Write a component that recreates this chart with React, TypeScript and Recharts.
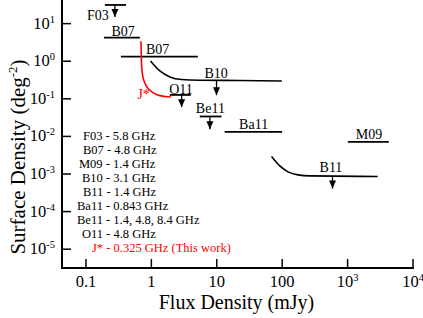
import React from 'react';
import { ComposedChart, Line, XAxis, YAxis, ReferenceDot, Label } from 'recharts';

// ── Axes ──────────────────────────────────────────────────────────────────────

const X_DOMAIN = [0.043, 10000];
const Y_DOMAIN = [3.16e-6, 40];

const X_TICKS = [0.1, 1, 10, 100, 1000, 10000];
const X_TICK_BASE = ['0.1', '1', '10', '100', '10', '10'];
const X_TICK_EXP = ['', '', '', '', '3', '4'];

const Y_TICKS = [1e-5, 1e-4, 1e-3, 1e-2, 1e-1, 1, 10];
const Y_TICK_EXP = ['-5', '-4', '-3', '-2', '-1', '0', '1'];

// ── Upper limits (horizontal bars) ───────────────────────────────────────────

const F03 = [{ x: 0.195, y: 31.4 }, { x: 0.41, y: 31.4 }];
const B07_A = [{ x: 0.188, y: 4.27 }, { x: 0.667, y: 4.27 }];
const B07_B = [{ x: 0.342, y: 1.33 }, { x: 5.13, y: 1.33 }];
const O11 = [{ x: 1.91, y: 0.127 }, { x: 4.0, y: 0.127 }];
const BE11 = [{ x: 5.5, y: 0.0339 }, { x: 11.8, y: 0.0339 }];
const BA11 = [{ x: 13.2, y: 0.0132 }, { x: 100, y: 0.0132 }];
const M09 = [{ x: 1010, y: 0.00714 }, { x: 4270, y: 0.00714 }];

// ── Curves ────────────────────────────────────────────────────────────────────

const J_STAR = [
  { x: 0.692, y: 3.4 }, { x: 0.705, y: 1.0 }, { x: 0.73, y: 0.45 },
  { x: 0.796, y: 0.26 }, { x: 0.95, y: 0.169 }, { x: 1.22, y: 0.128 },
  { x: 1.61, y: 0.115 }, { x: 1.99, y: 0.112 },
];
const B10 = [
  { x: 0.97, y: 1.02 }, { x: 1.35, y: 0.552 }, { x: 1.92, y: 0.382 },
  { x: 2.9, y: 0.326 }, { x: 5.5, y: 0.312 }, { x: 22.5, y: 0.307 },
  { x: 98.8, y: 0.299 },
];
const B11 = [
  { x: 68.7, y: 0.00292 }, { x: 92, y: 0.00164 }, { x: 123, y: 0.00114 },
  { x: 175, y: 0.000946 }, { x: 264, y: 0.000891 }, { x: 2890, y: 0.000859 },
];

// ── Downward arrows (x, from, to) ─────────────────────────────────────────────

const ARROW_X = [0.277, 2.9, 9.9, 7.85, 588];
const ARROW_FROM = [31.4, 0.127, 0.3, 0.0339, 0.00086];
const ARROW_TO = [15, 0.06, 0.125, 0.0155, 0.00041];

// ── Survey tags ───────────────────────────────────────────────────────────────

const TAG_TEXT = ['F03', 'B07', 'B07', 'J*', 'O11', 'B10', 'Be11', 'Ba11', 'M09', 'B11'];
const TAG_X = [0.152, 0.371, 1.25, 0.762, 2.83, 9.76, 7.98, 36.6, 2122, 557];
const TAG_Y = [12.3, 4.71, 1.53, 0.0977, 0.137, 0.368, 0.0432, 0.0155, 0.00879, 0.0011];

const LEGEND_LINES = [
  'F03 - 5.8 GHz',
  'B07 - 4.8 GHz',
  'M09 - 1.4 GHz',
  'B10 - 3.1 GHz',
  'B11 - 1.4 GHz',
  'Ba11 - 0.843 GHz',
  'Be11 - 1.4, 4.8, 8.4 GHz',
  'O11 - 4.8 GHz',
  'J* - 0.325 GHz (This work)',
];
const LEGEND_LEFT = [83, 83, 79, 82, 83, 77, 77, 82, 92];

const FONT = "'Liberation Serif', 'Times New Roman', serif";
const RED = '#ff0000';
const TICK_LEN = 9;

const XTick = (props: any) => {
  const { x, y, index } = props;
  const axisY = y - 19;
  return (
    <g>
      <line x1={x} x2={x} y1={axisY} y2={axisY - TICK_LEN} stroke="#000" strokeWidth={1.5} />
      <text x={x} y={y} textAnchor="middle" fontFamily={FONT} fontSize={16.5} fill="#000">
        {X_TICK_BASE[index]}
        {X_TICK_EXP[index] && (
          <tspan dy={-6} fontSize={10.5}>{X_TICK_EXP[index]}</tspan>
        )}
      </text>
    </g>
  );
};

const YTick = (props: any) => {
  const { x, y, index } = props;
  const axisX = x + 7;
  return (
    <g>
      <line x1={axisX} x2={axisX + TICK_LEN} y1={y} y2={y} stroke="#000" strokeWidth={1.5} />
      <text x={x} y={y + 5} textAnchor="end" fontFamily={FONT} fontSize={16.5} fill="#000">
        10<tspan dy={-6} fontSize={10.5}>{Y_TICK_EXP[index]}</tspan>
      </text>
    </g>
  );
};

const XTitle = (props: any) => {
  const vb = props.viewBox;
  return (
    <text x={vb.x + vb.width / 2 - 1} y={vb.y + 40.5} textAnchor="middle"
      fontFamily={FONT} fontSize={20} fill="#000">
      Flux Density (mJy)
    </text>
  );
};

const YTitle = (props: any) => {
  const cx = 25;
  const cy = (props.viewBox?.y ?? 1) + 156;
  return (
    <text x={cx} y={cy} textAnchor="middle" transform={`rotate(-90, ${cx}, ${cy})`}
      fontFamily={FONT} fontSize={21} fill="#000">
      Surface Density (deg<tspan dy={-8} fontSize={13}>-2</tspan>
      <tspan dy={8}>)</tspan>
    </text>
  );
};

const arrowHead = (p: any) => {
  if (p.index !== 1) return <g key={`a${p.index}`} />;
  const { cx, cy } = p;
  return (
    <path key={`a${p.index}`} d={`M${cx - 3.5},${cy - 8} L${cx + 3.5},${cy - 8} L${cx},${cy} Z`} fill="#000" />
  );
};

const limitLines = [F03, B07_A, B07_B, O11, BE11, BA11, M09];

export default function App() {
  return (
    <div style={{ position: 'absolute', left: 0, top: 0, width: 423, height: 318, background: '#fff' }}>
      <ComposedChart width={423} height={318} margin={{ top: 1, right: 10, left: 0, bottom: 0 }}>
        <XAxis
          dataKey="x" type="number" scale="log" domain={X_DOMAIN} allowDataOverflow
          ticks={X_TICKS} interval={0} height={50} tickSize={0} tickMargin={19}
          tick={<XTick />} tickLine={false}
          axisLine={{ stroke: '#000', strokeWidth: 2, strokeLinecap: 'square' }}
        >
          <Label content={<XTitle />} />
        </XAxis>
        <XAxis
          xAxisId="top" orientation="top" mirror dataKey="x" type="number" scale="log"
          domain={X_DOMAIN} allowDataOverflow ticks={X_TICKS} interval={0} height={0}
          tick={false} tickSize={TICK_LEN} tickLine={{ stroke: '#000', strokeWidth: 1.5 }}
          axisLine={{ stroke: '#000', strokeWidth: 2, strokeLinecap: 'square' }}
        />
        <YAxis
          type="number" scale="log" domain={Y_DOMAIN} allowDataOverflow
          ticks={Y_TICKS} interval={0} width={62} tickSize={0} tickMargin={7}
          tick={<YTick />} tickLine={false}
          axisLine={{ stroke: '#000', strokeWidth: 2, strokeLinecap: 'square' }}
        >
          <Label content={<YTitle />} />
        </YAxis>
        <YAxis
          yAxisId="right" orientation="right" mirror type="number" scale="log"
          domain={Y_DOMAIN} allowDataOverflow ticks={Y_TICKS} interval={0} width={0}
          tick={false} tickSize={TICK_LEN} tickLine={{ stroke: '#000', strokeWidth: 1.5 }}
          axisLine={{ stroke: '#000', strokeWidth: 2, strokeLinecap: 'square' }}
        />

        {limitLines.map((d, i) => (
          <Line key={`lim${i}`} data={d} dataKey="y" type="linear" stroke="#000"
            strokeWidth={1.8} dot={false} activeDot={false} isAnimationActive={false} />
        ))}

        <Line data={B10} dataKey="y" type="monotone" stroke="#000" strokeWidth={1.6}
          dot={false} activeDot={false} isAnimationActive={false} />
        <Line data={B11} dataKey="y" type="monotone" stroke="#000" strokeWidth={1.6}
          dot={false} activeDot={false} isAnimationActive={false} />
        <Line data={J_STAR} dataKey="y" type="monotone" stroke={RED} strokeWidth={1.6}
          dot={false} activeDot={false} isAnimationActive={false} />

        {ARROW_X.map((ax, i) => (
          <Line key={`arr${i}`} data={[{ x: ax, y: ARROW_FROM[i] }, { x: ax, y: ARROW_TO[i] }]}
            dataKey="y" type="linear" stroke="#000" strokeWidth={1.3}
            dot={arrowHead} activeDot={false} isAnimationActive={false} />
        ))}

        {TAG_TEXT.map((t, i) => (
          <ReferenceDot key={`tag${i}`} x={TAG_X[i]} y={TAG_Y[i]} r={1} ifOverflow="visible"
            shape={(p: any) => (
              <text x={p.cx} y={p.cy} textAnchor="middle" fontFamily={FONT} fontSize={14}
                fill={t === 'J*' ? RED : '#000'}>
                {t}
              </text>
            )}
          />
        ))}
      </ComposedChart>

      <svg width={423} height={318} style={{ position: 'absolute', left: 0, top: 0, pointerEvents: 'none' }}>
        {LEGEND_LINES.map((s, i) => (
          <text key={s} x={LEGEND_LEFT[i]} y={140 + i * 14.04} fontFamily={FONT} fontSize={12.5}
            fill={s.startsWith('J*') ? RED : '#000'}>
            {s}
          </text>
        ))}
      </svg>
    </div>
  );
}
